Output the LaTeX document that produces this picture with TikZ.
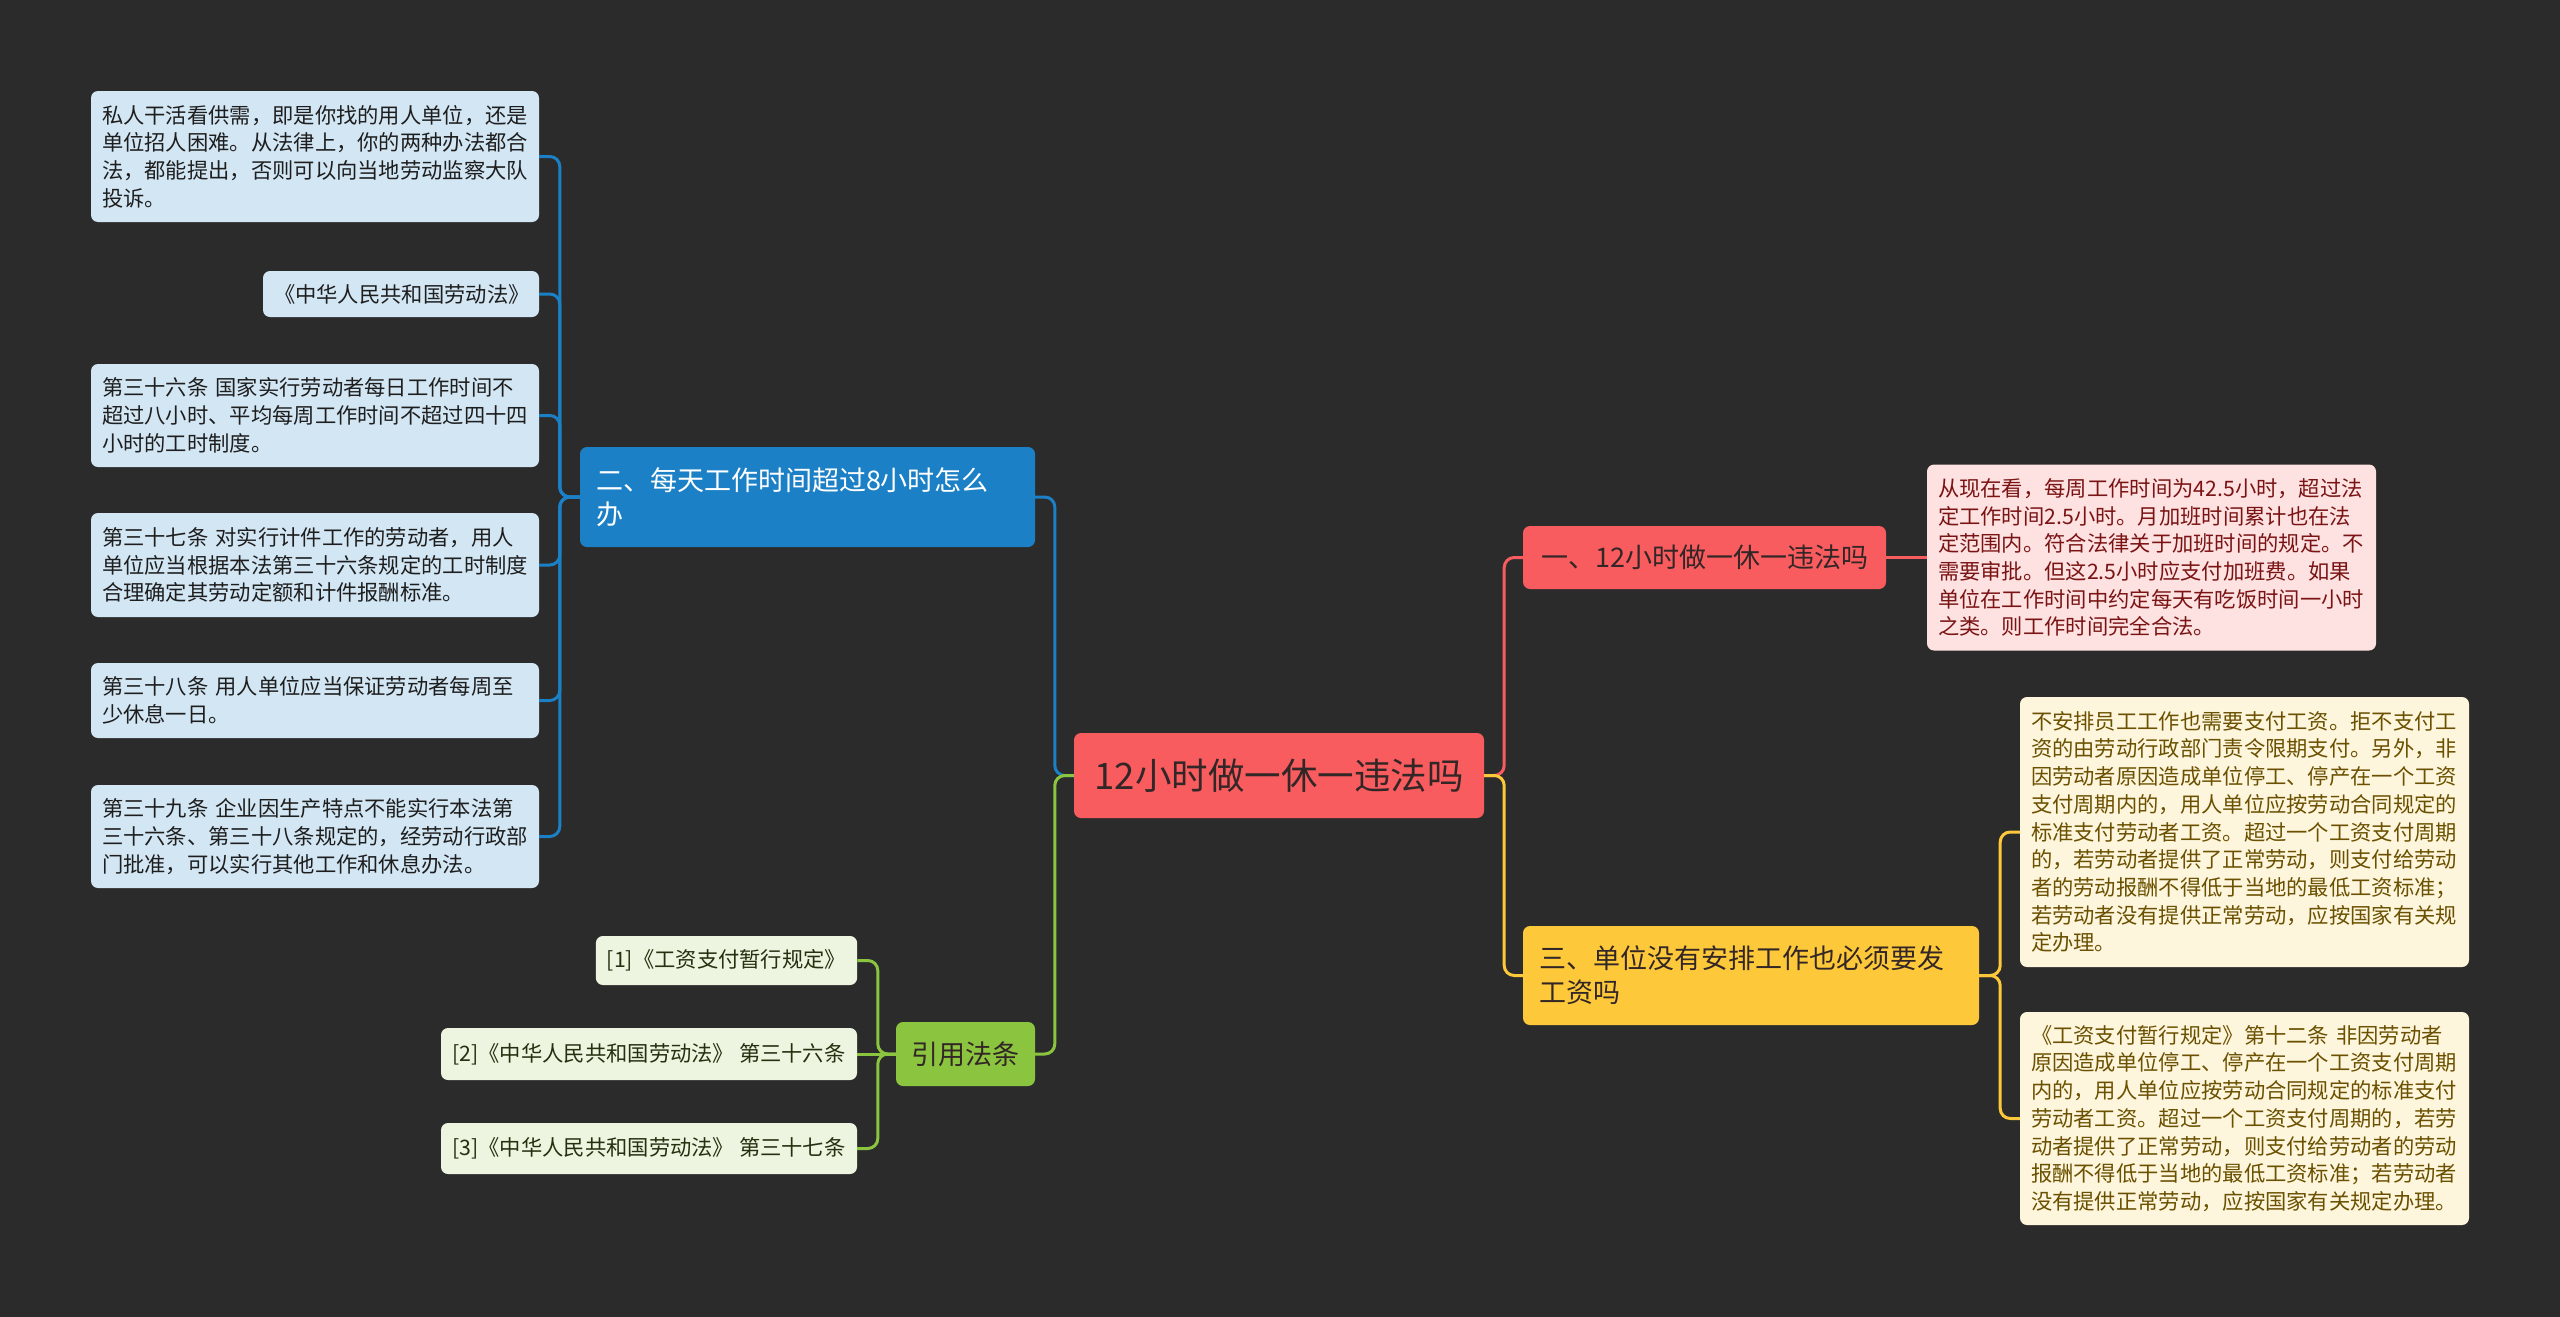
\documentclass[tikz,border=0pt]{standalone}
\usepackage{fontspec}
\setmainfont{Noto Sans CJK SC}
\setlength{\parindent}{0pt}
\newcommand\myfs[2]{\fontsize{#1}{#2}\selectfont}
\definecolor{bgc}{HTML}{2B2B2B}
\definecolor{redc}{HTML}{F95C5F}
\definecolor{redleaf}{HTML}{FEE1E1}
\definecolor{redtext}{HTML}{7A1414}
\definecolor{yelc}{HTML}{FDC93A}
\definecolor{yelleaf}{HTML}{FEF6DC}
\definecolor{yeltext}{HTML}{6A5000}
\definecolor{bluec}{HTML}{1C80C6}
\definecolor{blueleaf}{HTML}{D3E6F4}
\definecolor{bluetext}{HTML}{1E1E1E}
\definecolor{grnc}{HTML}{8BC53F}
\definecolor{grnleaf}{HTML}{EDF4DF}
\definecolor{grntext}{HTML}{263010}
\definecolor{darktext}{HTML}{332626}
\begin{document}
\begin{tikzpicture}[x=1pt,y=-1pt,
  box/.style={rounded corners=7pt, inner xsep=11pt, inner ysep=2pt, anchor=center},
  leaffont/.style={font=\myfs{21.3}{27.7}},
  bleaf/.style={box, leaffont, fill=blueleaf, text=bluetext, align=left},
  rleaf/.style={box, leaffont, fill=redleaf, text=redtext, align=left},
  yleaf/.style={box, leaffont, fill=yelleaf, text=yeltext, align=left},
  gleaf/.style={box, leaffont, fill=grnleaf, text=grntext, align=center},
  mainnode/.style={box, inner xsep=16pt, font=\myfs{27}{34}},
  conn/.style={line width=3pt, rounded corners=10pt},
]
\fill[bgc] (0,0) rectangle (2560,1317);
\useasboundingbox (0,0) rectangle (2560,1317);

% center
\node[box, fill=redc, text=darktext, font=\myfs{36.5}{44}, minimum width=410pt, minimum height=85pt, align=center] (c) at (1279,775.5) {12小时做一休一违法吗};

% blue branch
\node[mainnode, fill=bluec, text=white, text width=423pt, minimum height=100pt, align=left] (bn) at (807.5,497) {二、每天工作时间超过8小时怎么\\办};
\node[bleaf, text width=426pt, minimum height=131pt] (b1) at (315,156.5) {私人干活看供需，即是你找的用人单位，还是\\单位招人困难。从法律上，你的两种办法都合\\法，都能提出，否则可以向当地劳动监察大队\\投诉。};
\node[bleaf, text width=254pt, minimum height=46pt, align=center] (b2) at (401,294) {《中华人民共和国劳动法》};
\node[bleaf, text width=426pt, minimum height=103pt] (b3) at (315,415.5) {第三十六条 国家实行劳动者每日工作时间不\\超过八小时、平均每周工作时间不超过四十四\\小时的工时制度。};
\node[bleaf, text width=426pt, minimum height=104pt] (b4) at (315,565) {第三十七条 对实行计件工作的劳动者，用人\\单位应当根据本法第三十六条规定的工时制度\\合理确定其劳动定额和计件报酬标准。};
\node[bleaf, text width=426pt, minimum height=75pt] (b5) at (315,700.5) {第三十八条 用人单位应当保证劳动者每周至\\少休息一日。};
\node[bleaf, text width=426pt, minimum height=103pt] (b6) at (315,836.5) {第三十九条 企业因生产特点不能实行本法第\\三十六条、第三十八条规定的，经劳动行政部\\门批准，可以实行其他工作和休息办法。};

% green branch
\node[mainnode, fill=grnc, text=darktext, minimum width=139pt, minimum height=64pt, inner xsep=8pt, align=center] (gn) at (965.5,1054) {引用法条};
\node[gleaf, minimum width=261pt, minimum height=49pt] (g1) at (726.5,960.5) {[1]《工资支付暂行规定》};
\node[gleaf, minimum width=416pt, minimum height=52pt] (g2) at (649,1054) {[2]《中华人民共和国劳动法》 第三十六条};
\node[gleaf, minimum width=416pt, minimum height=51pt] (g3) at (649,1148.5) {[3]《中华人民共和国劳动法》 第三十七条};

% red branch
\node[mainnode, fill=redc, text=darktext, minimum width=363pt, minimum height=63pt, align=center] (rn) at (1704.5,557.5) {一、12小时做一休一违法吗};
\node[rleaf, text width=427pt, minimum height=186pt] (rl) at (2151.5,557.5) {从现在看，每周工作时间为42.5小时，超过法\\定工作时间2.5小时。月加班时间累计也在法\\定范围内。符合法律关于加班时间的规定。不\\需要审批。但这2.5小时应支付加班费。如果\\单位在工作时间中约定每天有吃饭时间一小时\\之类。则工作时间完全合法。};

% yellow branch
\node[mainnode, fill=yelc, text=darktext, text width=424pt, minimum height=99pt, align=left] (yn) at (1751,975.5) {三、单位没有安排工作也必须要发\\工资吗};
\node[yleaf, text width=427pt, minimum height=270pt] (y1) at (2244.5,832) {不安排员工工作也需要支付工资。拒不支付工\\资的由劳动行政部门责令限期支付。另外，非\\因劳动者原因造成单位停工、停产在一个工资\\支付周期内的，用人单位应按劳动合同规定的\\标准支付劳动者工资。超过一个工资支付周期\\的，若劳动者提供了正常劳动，则支付给劳动\\者的劳动报酬不得低于当地的最低工资标准；\\若劳动者没有提供正常劳动，应按国家有关规\\定办理。};
\node[yleaf, text width=427pt, minimum height=213pt] (y2) at (2244.5,1118.5) {《工资支付暂行规定》第十二条 非因劳动者\\原因造成单位停工、停产在一个工资支付周期\\内的，用人单位应按劳动合同规定的标准支付\\劳动者工资。超过一个工资支付周期的，若劳\\动者提供了正常劳动，则支付给劳动者的劳动\\报酬不得低于当地的最低工资标准；若劳动者\\没有提供正常劳动，应按国家有关规定办理。};

% connectors
\draw[conn, bluec] (c.west) -- ++(-19,0) |- (bn.east);
\draw[conn, grnc] (c.west) -- ++(-19,0) |- (gn.east);
\foreach \n in {b1,b2,b3,b4,b5,b6}
  \draw[conn, bluec] (bn.west) -- ++(-20,0) |- (\n.east);
\draw[conn, grnc] (gn.west) -- ++(-18,0) |- (g1.east);
\draw[conn, grnc] (gn.west) -- (g2.east);
\draw[conn, grnc] (gn.west) -- ++(-18,0) |- (g3.east);
\draw[conn, redc] (c.east) -- ++(20,0) |- (rn.west);
\draw[conn, yelc] (c.east) -- ++(20,0) |- (yn.west);
\draw[conn, redc] (rn.east) -- (rl.west);
\draw[conn, yelc] (yn.east) -- ++(21,0) |- (y1.west);
\draw[conn, yelc] (yn.east) -- ++(21,0) |- (y2.west);
\end{tikzpicture}
\end{document}
